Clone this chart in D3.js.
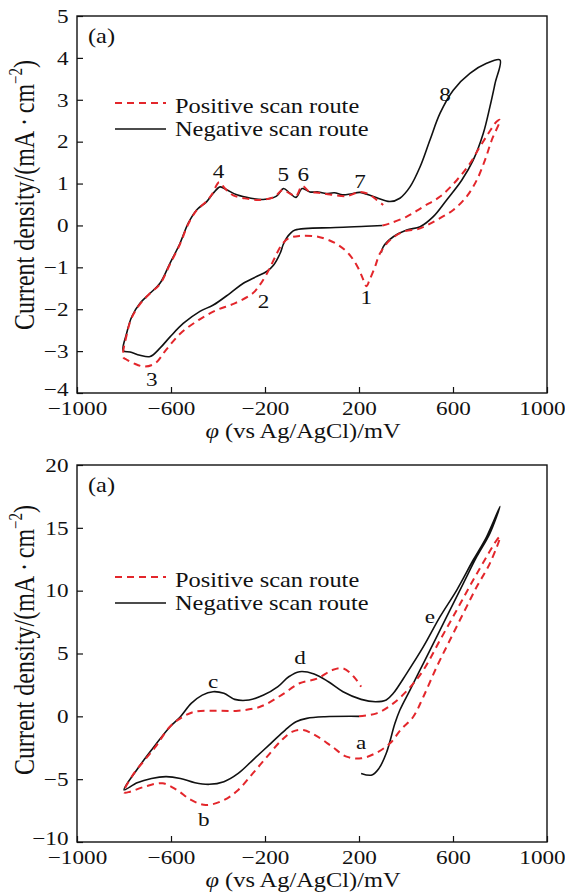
<!DOCTYPE html>
<html>
<head>
<meta charset="utf-8">
<script src="https://cdn.jsdelivr.net/npm/d3@7"></script>
<style>
  body { margin: 0; background: #fff; }
  svg { display: block; }
  text { font-family: "Liberation Serif", "Times New Roman", serif; fill: #111; }
</style>
</head>
<body>
<svg id="chart" width="565" height="896"></svg>
<script>
// x ticks shared by both panels
const xTicks = [-1000, -600, -200, 200, 600, 1000];
const topYTicks = [-4, -3, -2, -1, 0, 1, 2, 3, 4, 5];
const botYTicks = [-10, -5, 0, 5, 10, 15, 20];

// [potential mV, current density mA/cm2]
const topPositive = [
  [300, 0.0], [332, 0.05], [403, 0.21], [474, 0.45], [545, 0.69], [616, 1.08], [672, 1.48],
  [715, 1.88], [751, 2.20], [786, 2.48], [800, 2.52],
  [765, 2.04], [736, 1.56], [701, 1.08], [658, 0.69], [601, 0.37], [531, 0.13], [460, -0.07],
  [389, -0.15], [332, -0.35], [289, -0.67], [268, -0.99], [245, -1.30], [232, -1.45],
  [215, -1.25], [193, -0.98], [155, -0.67], [101, -0.43], [25, -0.27], [-54, -0.25],
  [-100, -0.31], [-130, -0.47], [-160, -0.79], [-191, -1.14], [-222, -1.42], [-252, -1.62],
  [-329, -1.86], [-406, -2.02], [-483, -2.26], [-560, -2.58], [-621, -2.97], [-667, -3.29],
  [-713, -3.37], [-759, -3.29], [-790, -3.20], [-803, -3.15],
  [-789, -2.62], [-767, -2.20], [-732, -1.88], [-689, -1.62], [-647, -1.40], [-604, -0.92],
  [-562, -0.45], [-527, 0.03], [-491, 0.36], [-448, 0.58], [-425, 0.75], [-395, 1.03],
  [-370, 0.88], [-335, 0.72], [-278, 0.64], [-221, 0.61], [-160, 0.68], [-125, 0.85],
  [-94, 0.76], [-68, 0.70], [-42, 0.94], [-9, 0.80], [27, 0.78], [77, 0.74], [148, 0.70],
  [204, 0.80], [240, 0.75], [275, 0.61], [303, 0.49]
];
const topNegative = [
  [300, 0.0], [230, -0.02], [100, -0.05], [-72, -0.11], [-94, -0.20], [-108, -0.30],
  [-122, -0.45], [-136, -0.67], [-164, -0.95], [-193, -1.10], [-236, -1.22], [-292, -1.38],
  [-349, -1.62], [-420, -1.90], [-477, -2.05], [-548, -2.34], [-604, -2.66], [-647, -2.93],
  [-689, -3.13], [-732, -3.10], [-774, -3.02], [-803, -2.99],
  [-789, -2.58], [-767, -2.18], [-732, -1.86], [-689, -1.62], [-647, -1.38], [-604, -0.90],
  [-562, -0.43], [-527, 0.05], [-491, 0.37], [-448, 0.57], [-420, 0.77], [-391, 0.92],
  [-363, 0.85], [-320, 0.73], [-260, 0.65], [-208, 0.62], [-151, 0.70], [-122, 0.88],
  [-94, 0.77], [-68, 0.67], [-42, 0.88], [-9, 0.80], [27, 0.80], [60, 0.76], [95, 0.78],
  [130, 0.73], [165, 0.75], [204, 0.79], [261, 0.69], [332, 0.57], [374, 0.65], [417, 0.92],
  [460, 1.40], [502, 2.04], [545, 2.68], [601, 3.23], [672, 3.63], [743, 3.87], [800, 3.95],
  [779, 3.39], [757, 2.83], [729, 2.20], [686, 1.56], [637, 1.08], [573, 0.61], [516, 0.21],
  [460, -0.03], [403, -0.11], [346, -0.27], [303, -0.51], [295, -0.65]
];
const botPositive = [
  [200, 0.0], [275, 0.24], [346, 1.03], [417, 2.30], [474, 3.68], [545, 6.07], [616, 8.46],
  [686, 10.85], [743, 12.70], [786, 14.03], [800, 14.30],
  [757, 12.17], [701, 10.31], [644, 8.20], [587, 6.07], [531, 3.95], [474, 1.56], [431, -0.03],
  [377, -1.09], [332, -2.15], [270, -2.94], [209, -3.34], [147, -3.21], [86, -2.42],
  [24, -1.62], [-37, -1.09], [-83, -1.22], [-129, -1.89], [-191, -3.21], [-252, -4.54],
  [-314, -5.86], [-375, -6.66], [-452, -7.06], [-514, -6.66], [-575, -5.86], [-636, -5.33],
  [-713, -5.60], [-774, -6.00], [-800, -6.05],
  [-760, -4.60], [-713, -3.50], [-667, -2.45], [-605, -0.83], [-560, -0.16], [-499, 0.37],
  [-406, 0.45], [-314, 0.45], [-221, 0.76], [-130, 1.69], [-53, 2.63], [24, 3.02],
  [86, 3.68], [132, 3.82], [178, 3.15], [209, 2.36]
];
const botNegative = [
  [200, 0.0], [55, -0.03], [-22, -0.16], [-68, -0.43], [-114, -1.09], [-175, -2.15],
  [-252, -3.48], [-314, -4.54], [-375, -5.20], [-437, -5.41], [-498, -5.28], [-560, -4.94],
  [-621, -4.80], [-683, -4.94], [-744, -5.28], [-800, -5.85],
  [-746, -4.27], [-689, -2.82], [-604, -0.83], [-560, -0.03], [-514, 1.03], [-467, 1.69],
  [-421, 1.96], [-375, 1.83], [-329, 1.35], [-268, 1.30], [-206, 1.69], [-145, 2.36],
  [-99, 3.15], [-53, 3.55], [9, 3.37], [70, 2.75], [132, 1.96], [209, 1.35], [270, 1.16],
  [316, 1.30], [346, 1.83], [403, 3.42], [474, 5.54], [545, 7.93], [616, 10.05],
  [686, 12.44], [743, 14.29], [800, 16.70],
  [757, 14.56], [701, 12.70], [644, 10.58], [587, 8.46], [531, 6.34], [474, 4.22],
  [417, 2.09], [374, 0.50], [353, -0.56], [316, -2.94], [285, -4.14], [255, -4.67], [209, -4.54]
];

// peak labels [text, mV, current]
const topMarks = [["1", 231, -1.73], ["2", -206, -1.82], ["3", -682, -3.69], ["4", -398, 1.28],
  ["5", -122, 1.20], ["6", -37, 1.22], ["7", 204, 1.04], ["8", 566, 3.11]];
const botMarks = [["a", 209, -2.12], ["b", -460, -8.25], ["c", -421, 2.74], ["d", -51, 4.64], ["e", 502, 7.9]];

const legendLabels = ["Positive scan route", "Negative scan route"];
const RED = "#e3262b";
const SX = 1.22; // the figure is stretched horizontally

const svg = d3.select("#chart");
const x = d3.scaleLinear().domain([-1000, 1000]).range([77, 547]);

function stext(g, px, py, str, size, anchor) {
  return g.append("text")
    .attr("transform", `translate(${px},${py}) scale(${SX},1)`)
    .attr("text-anchor", anchor || "start")
    .attr("dominant-baseline", "central")
    .style("font-size", size + "px")
    .text(str);
}

function panel(cfg) {
  const y = d3.scaleLinear().domain(cfg.yDomain).range([cfg.bottom, cfg.top]);
  const g = svg.append("g");
  const yMin = cfg.yDomain[0];

  const line = d3.line()
    .x((d) => x(d[0]))
    .y((d) => y(d[1]))
    .curve(d3.curveCatmullRom.alpha(0.5));

  g.append("path").datum(cfg.negative)
    .attr("d", line).attr("fill", "none")
    .attr("stroke", "#111").attr("stroke-width", 1.6);
  g.append("path").datum(cfg.positive)
    .attr("d", line).attr("fill", "none")
    .attr("stroke", RED).attr("stroke-width", 2).attr("stroke-dasharray", "7,5");

  // axes, ticks inward
  const xa = g.append("g").attr("transform", `translate(0,${cfg.bottom})`)
    .call(d3.axisBottom(x).tickValues(xTicks).tickFormat(d3.format("d"))
      .tickSizeInner(-6).tickSizeOuter(0));
  xa.selectAll("text")
    .attr("y", null).attr("dy", null)
    .attr("transform", (d) => `translate(${d === 1000 ? -5 : 0},16) scale(${SX},1)`)
    .attr("dominant-baseline", "central");

  const ya = g.append("g").attr("transform", `translate(${x.range()[0]},0)`)
    .call(d3.axisLeft(y).tickValues(cfg.yTicks).tickFormat(d3.format("d"))
      .tickSizeInner(-6).tickSizeOuter(0));
  ya.selectAll("text")
    .attr("x", null).attr("dy", null)
    .attr("transform", (d) => `translate(-8.5,${d === yMin ? -4 : 0}) scale(${SX},1)`)
    .attr("dominant-baseline", "central");

  g.selectAll(".domain").remove();
  g.selectAll(".tick line").attr("stroke", "#111").attr("stroke-width", 1.2);
  g.selectAll(".tick text").style("font-size", "19px")
    .style("font-family", "'Liberation Serif', 'Times New Roman', serif").attr("fill", "#111");

  g.append("rect")
    .attr("x", x.range()[0]).attr("y", cfg.top)
    .attr("width", x.range()[1] - x.range()[0]).attr("height", cfg.bottom - cfg.top)
    .attr("fill", "none").attr("stroke", "#111").attr("stroke-width", 1.4);

  stext(g, 88, cfg.top + 20, "(a)", 20);

  // legend
  const ly = cfg.top + cfg.legendOffset;
  g.append("line").attr("x1", 115).attr("x2", 166).attr("y1", ly).attr("y2", ly)
    .attr("stroke", RED).attr("stroke-width", 2).attr("stroke-dasharray", "7,5");
  g.append("line").attr("x1", 115).attr("x2", 166).attr("y1", ly + 26).attr("y2", ly + 26)
    .attr("stroke", "#111").attr("stroke-width", 1.6);
  stext(g, 175, ly + 3, legendLabels[0], 20);
  stext(g, 175, ly + 26, legendLabels[1], 20);

  cfg.marks.forEach((m) => stext(g, x(m[1]), y(m[2]), m[0], 19, "middle"));

  // axis titles
  stext(g, x(0) - 9, cfg.bottom + 38, "", 20, "middle")
    .call((t) => {
      t.append("tspan").style("font-style", "italic").text("φ");
      t.append("tspan").text(" (vs Ag/AgCl)/mV");
    });

  const yl = g.append("text")
    .attr("transform", `translate(24,${cfg.labelY}) scale(${SX},1) rotate(-90)`)
    .attr("text-anchor", "middle")
    .attr("dominant-baseline", "central")
    .style("font-size", "24px");
  yl.append("tspan").text("Current density/(mA\u2009·\u2009cm");
  yl.append("tspan").attr("dy", "-0.45em").style("font-size", "15px").text("−2");
  yl.append("tspan").attr("dy", "0.3em").text(")");
}

panel({
  top: 16, bottom: 393, yDomain: [-4, 5], yTicks: topYTicks,
  positive: topPositive, negative: topNegative, marks: topMarks,
  legendOffset: 87, labelY: 195
});
panel({
  top: 465, bottom: 842, yDomain: [-10, 20], yTicks: botYTicks,
  positive: botPositive, negative: botNegative, marks: botMarks,
  legendOffset: 112, labelY: 640
});
</script>
</body>
</html>
